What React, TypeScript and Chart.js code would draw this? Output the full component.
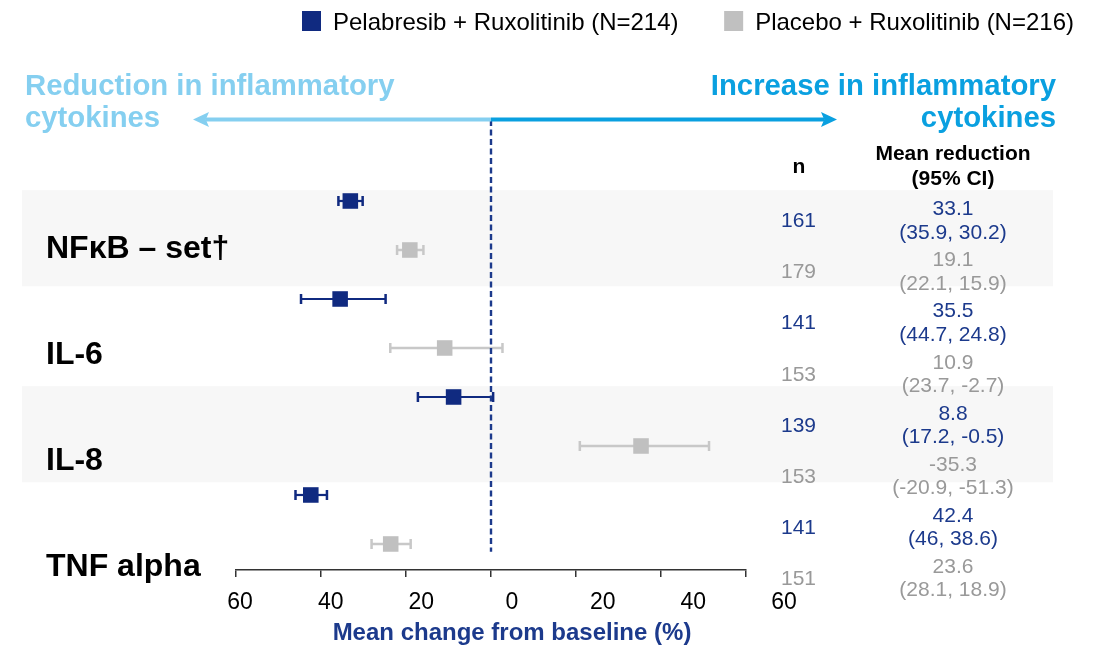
import React, { useEffect, useRef } from "react";
import { Chart, registerables } from "chart.js";

Chart.register(...registerables);

// ---------------- data ----------------
const cytokines = ["NFκB – set†", "IL-6", "IL-8", "TNF alpha"];
const seriesLabels = ["Pelabresib + Ruxolitinib (N=214)", "Placebo + Ruxolitinib (N=216)"];

const pelN = [161, 141, 139, 141];
const pelMeanReduction = [33.1, 35.5, 8.8, 42.4];
const pelCiFirst = [35.9, 44.7, 17.2, 46];
const pelCiSecond = [30.2, 24.8, -0.5, 38.6];

const plaN = [179, 153, 153, 151];
const plaMeanReduction = [19.1, 10.9, -35.3, 23.6];
const plaCiFirst = [22.1, 23.7, -20.9, 28.1];
const plaCiSecond = [15.9, -2.7, -51.3, 18.9];

const xTickValues = [-60, -40, -20, 0, 20, 40, 60];
const axisTitle = "Mean change from baseline (%)";
const headerLeft = ["Reduction in inflammatory", "cytokines"];
const headerRight = ["Increase in inflammatory", "cytokines"];
const colHeaderN = "n";
const colHeaderMean = ["Mean reduction", "(95% CI)"];

// ---------------- styles ----------------
const FONT = '"Liberation Sans", Arial, Helvetica, sans-serif';
const NAVY = "#102a80";
const NAVY_TEXT = "#1c3a8c";
const GREY = "#c0c0c0";
const GREY_BAR = "#c8c8c8";
const GREY_TEXT = "#999999";
const LIGHT_BLUE = "#85cff0";
const BLUE = "#0aa0e0";
const BAND = "#f7f7f7";

const fmt = (v: number) => String(v);

function drawWhisker(ctx: CanvasRenderingContext2D, xs: any, lo: number, hi: number, yPix: number, color: string, lw: number) {
  const a = xs.getPixelForValue(lo);
  const b = xs.getPixelForValue(hi);
  ctx.strokeStyle = color;
  ctx.lineWidth = lw;
  ctx.beginPath();
  ctx.moveTo(a, yPix);
  ctx.lineTo(b, yPix);
  ctx.stroke();
  ctx.lineWidth = 2.5;
  ctx.beginPath();
  ctx.moveTo(a, yPix - 5);
  ctx.lineTo(a, yPix + 5);
  ctx.moveTo(b, yPix - 5);
  ctx.lineTo(b, yPix + 5);
  ctx.stroke();
}

function drawArrow(ctx: CanvasRenderingContext2D, xFrom: number, xTo: number, y: number, color: string) {
  const dir = Math.sign(xTo - xFrom);
  const headLen = 16;
  const headHalf = 7.5;
  ctx.strokeStyle = color;
  ctx.fillStyle = color;
  ctx.lineWidth = 4;
  ctx.beginPath();
  ctx.moveTo(xFrom, y);
  ctx.lineTo(xTo - dir * headLen * 0.8, y);
  ctx.stroke();
  ctx.beginPath();
  ctx.moveTo(xTo, y);
  ctx.lineTo(xTo - dir * headLen, y - headHalf);
  ctx.lineTo(xTo - dir * headLen * 0.8, y);
  ctx.lineTo(xTo - dir * headLen, y + headHalf);
  ctx.closePath();
  ctx.fill();
}

const forestPlugin = {
  id: "forest",
  afterLayout(chart: any) {
    const x = chart.scales.x;
    const x2 = chart.scales.x2;
    x2.left = x.left + 4;
    x2.right = x.right + 38;
    x2.width = x2.right - x2.left;
    x2.configure();
    x2._labelItems = null;
  },
  beforeDraw(chart: any) {
    const { ctx } = chart;
    const y = chart.scales.y;
    ctx.save();
    ctx.fillStyle = BAND;
    cytokines.forEach((_, k) => {
      if (k % 2 === 0) {
        const top = y.getPixelForValue(2 * k - 0.22);
        const bot = y.getPixelForValue(2 * k + 1.74);
        ctx.fillRect(22, top, 1053 - 22, bot - top);
      }
    });
    ctx.restore();
  },
  beforeDatasetsDraw(chart: any) {
    const { ctx } = chart;
    const xs = chart.scales.x;
    const ys = chart.scales.y;
    ctx.save();
    cytokines.forEach((_, k) => {
      drawWhisker(ctx, xs, -pelCiFirst[k], -pelCiSecond[k], ys.getPixelForValue(2 * k), NAVY, 2.2);
      drawWhisker(ctx, xs, -plaCiFirst[k], -plaCiSecond[k], ys.getPixelForValue(2 * k + 1), GREY_BAR, 2.5);
    });
    ctx.restore();
  },
  afterDraw(chart: any) {
    const { ctx } = chart;
    const xs = chart.scales.x;
    const ds = chart.data.datasets;
    ctx.save();

    // legend
    ctx.font = `24px ${FONT}`;
    ctx.textBaseline = "alphabetic";
    ctx.textAlign = "left";
    const x1 = 302;
    ctx.fillStyle = ds[0].backgroundColor;
    ctx.fillRect(x1, 11, 19, 20);
    ctx.fillStyle = "#000";
    ctx.fillText(ds[0].label, x1 + 31, 29.5);
    const w2 = ctx.measureText(ds[1].label).width;
    const t2 = 1074 - w2;
    ctx.fillStyle = ds[1].backgroundColor;
    ctx.fillRect(t2 - 31, 11, 19, 20);
    ctx.fillStyle = "#000";
    ctx.fillText(ds[1].label, t2, 29.5);

    // direction headers + arrows
    const x0 = xs.getPixelForValue(0);
    ctx.font = `bold 29.3px ${FONT}`;
    ctx.fillStyle = LIGHT_BLUE;
    ctx.textAlign = "left";
    ctx.fillText(headerLeft[0], 25, 95);
    ctx.fillText(headerLeft[1], 25, 127);
    ctx.fillStyle = BLUE;
    ctx.textAlign = "right";
    ctx.fillText(headerRight[0], 1056, 95);
    ctx.fillText(headerRight[1], 1056, 127);
    drawArrow(ctx, x0, 193, 119.5, LIGHT_BLUE);
    drawArrow(ctx, x0, 837, 119.5, BLUE);

    // table headers
    ctx.fillStyle = "#000";
    ctx.textAlign = "center";
    ctx.textBaseline = "middle";
    ctx.font = `bold 21px ${FONT}`;
    ctx.fillText(colHeaderN, 799, 167);
    ctx.fillText(colHeaderMean[0], 953, 154);
    ctx.fillText(colHeaderMean[1], 953, 179);

    // table rows
    ctx.font = `21px ${FONT}`;
    const pitch = 51.07;
    cytokines.forEach((_, k) => {
      const rows = [
        { n: pelN[k], m: pelMeanReduction[k], a: pelCiFirst[k], b: pelCiSecond[k], c: NAVY_TEXT },
        { n: plaN[k], m: plaMeanReduction[k], a: plaCiFirst[k], b: plaCiSecond[k], c: GREY_TEXT },
      ];
      rows.forEach((row, s) => {
        const r = 2 * k + s;
        ctx.fillStyle = row.c;
        ctx.fillText(String(row.n), 798.5, 221.5 + pitch * r);
        const ym = 209.5 + pitch * r;
        ctx.fillText(fmt(row.m), 953, ym);
        ctx.fillText(`(${fmt(row.a)}, ${fmt(row.b)})`, 953, ym + 23.5);
      });
    });
    ctx.restore();
  },
};

export default function App() {
  const ref = useRef<HTMLCanvasElement>(null);
  useEffect(() => {
    const canvas = ref.current!;
    const chart = new Chart(canvas, {
      type: "scatter",
      data: {
        datasets: [
          {
            label: seriesLabels[0],
            data: pelMeanReduction.map((m, k) => ({ x: -m, y: 2 * k })),
            backgroundColor: NAVY,
            borderColor: NAVY,
            borderWidth: 0,
            pointStyle: "rect",
            pointRadius: 11,
            order: 1,
          },
          {
            label: seriesLabels[1],
            data: plaMeanReduction.map((m, k) => ({ x: -m, y: 2 * k + 1 })),
            backgroundColor: GREY,
            borderColor: GREY,
            borderWidth: 0,
            pointStyle: "rect",
            pointRadius: 11,
            order: 2,
          },
          {
            type: "line",
            label: "zero",
            data: [
              { x: 0, y: -1.653 },
              { x: 0, y: 7.16 },
            ],
            borderColor: NAVY_TEXT,
            borderWidth: 2.4,
            borderDash: [6, 3.5],
            pointRadius: 0,
            showLine: true,
            fill: false,
            order: 3,
          } as any,
        ],
      },
      options: {
        responsive: false,
        animation: false,
        events: [],
        layout: { padding: { left: 46, right: 356, top: 120, bottom: 0 } },
        plugins: {
          legend: { display: false },
          tooltip: { enabled: false },
          title: { display: false },
        },
        scales: {
          x: {
            type: "linear",
            position: "bottom",
            min: -60,
            max: 60,
            weight: 0,
            afterBuildTicks: (s: any) => {
              s.ticks = xTickValues.map((v) => ({ value: v }));
            },
            ticks: { display: false },
            grid: { display: true, drawOnChartArea: false, drawTicks: true, tickLength: 7, color: "#333", lineWidth: 1.5 },
            border: { display: true, color: "#333", width: 1.5 },
            afterFit: (s: any) => {
              s.height = 8;
            },
          },
          x2: {
            type: "linear",
            position: "bottom",
            min: -60,
            max: 60,
            weight: 1,
            afterBuildTicks: (s: any) => {
              s.ticks = xTickValues.map((v) => ({ value: v }));
            },
            ticks: {
              display: true,
              padding: 11,
              color: "#000",
              font: { family: FONT, size: 23 },
              autoSkip: false,
              maxRotation: 0,
              callback: (v: any) => String(Math.abs(Number(v))),
            },
            grid: { display: false, drawTicks: false },
            border: { display: false },
            title: {
              display: true,
              text: axisTitle,
              color: NAVY_TEXT,
              font: { family: FONT, size: 24, weight: "bold" },
              padding: { top: 0, bottom: 3 },
            },
            afterFit: (s: any) => {
              s.height = 73;
            },
          },
          y: {
            type: "linear",
            display: false,
            reverse: true,
            min: -1.653,
            max: 7.531,
          },
          yLab: {
            type: "linear",
            position: "left",
            reverse: true,
            min: -1.217,
            max: 3.028,
            afterBuildTicks: (s: any) => {
              s.ticks = cytokines.map((_, i) => ({ value: i }));
            },
            ticks: {
              autoSkip: false,
              crossAlign: "far",
              padding: 0,
              color: "#000",
              font: { family: FONT, size: 32, weight: "bold" },
              callback: (v: any) => cytokines[Math.round(Number(v))],
            },
            grid: { display: false },
            border: { display: false },
            afterFit: (s: any) => {
              s.width = 190;
            },
          },
        },
      } as any,
      plugins: [forestPlugin],
    });
    return () => chart.destroy();
  }, []);
  return (
    <div style={{ position: "fixed", left: 0, top: 0, width: 1102, height: 651, background: "#fff" }}>
      <canvas ref={ref} width={1102} height={651} style={{ display: "block", width: 1102, height: 651 }} />
    </div>
  );
}
